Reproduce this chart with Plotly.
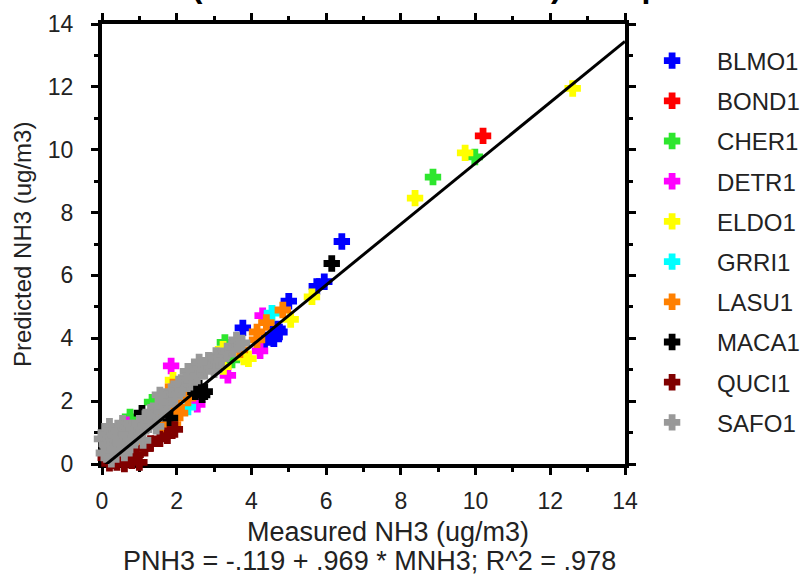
import plotly.graph_objects as go

# Monitoring sites, in legend order, with their marker colours
stations = ["BLMO1", "BOND1", "CHER1", "DETR1", "ELDO1",
            "GRRI1", "LASU1", "MACA1", "QUCI1", "SAFO1"]
colors = ["#0000ff", "#ff0000", "#2ee62e", "#ff00ff", "#ffff00",
          "#00ffff", "#ff8000", "#000000", "#800000", "#999999"]

# Measured (x) and predicted (y) NH3, ug/m3, per site
blmo1_x = [6.42, 5.95, 5.75, 5.00, 4.70, 4.55, 4.75, 4.35, 3.77, 4.60]
blmo1_y = [7.08, 5.80, 5.65, 5.18, 4.30, 4.10, 4.20, 3.87, 4.33, 3.98]

bond1_x = [10.20]
bond1_y = [10.44]

cher1_x = [9.98, 8.86, 3.29, 3.48, 0.75, 1.34]
cher1_y = [9.77, 9.13, 3.87, 3.31, 1.50, 1.97]

detr1_x = [1.85, 3.37, 4.23, 4.30, 2.55, 0.65]
detr1_y = [3.12, 2.82, 3.60, 4.72, 1.90, 1.25]

eldo1_x = [12.60, 9.72, 8.38, 5.62, 5.05, 3.92, 3.24, 3.25, 1.90, 3.80]
eldo1_y = [11.95, 9.90, 8.46, 5.32, 4.60, 3.35, 3.65, 3.10, 2.67, 3.40]

grri1_x = [4.55, 2.30]
grri1_y = [4.80, 1.81]

lasu1_x = [1.00, 1.60, 1.90, 1.63, 2.00, 2.09, 1.90, 2.30, 3.69, 4.15,
           4.15, 4.84, 4.40, 2.25, 2.09]
lasu1_y = [0.45, 1.10, 1.25, 1.62, 1.80, 2.35, 2.45, 2.10, 3.63, 3.95,
           4.20, 4.90, 4.50, 2.55, 1.62]

maca1_x = [6.15, 2.50, 2.68, 2.60, 2.75, 1.07, 1.82]
maca1_y = [6.38, 2.30, 2.20, 2.42, 2.30, 1.62, 1.46]

quci1_x = [0.20, 0.40, 0.60, 0.80, 1.00, 0.90, 0.50, 0.10, -0.10, 1.30,
           1.55, 1.75, 1.15, 0.55, 0.70, 1.95, 0.30]
quci1_y = [0.02, 0.05, 0.00, 0.10, 0.05, 0.30, 0.25, 0.20, 0.30, 0.65,
           0.80, 0.90, 0.50, 1.15, 0.35, 1.10, 0.10]

safo1_x = [-0.15, -0.10, 0.00, 0.05, 0.10, 0.15, 0.25, 0.30, 0.35, 0.45,
           0.50, 0.60, 0.65, 0.75, 0.80, 0.90, 1.00, 1.05, 1.15, 1.25,
           1.30, 1.40, 1.50, 1.60, 1.70, 1.75, 1.85, 1.95, 2.05, 2.15,
           2.25, 2.35, 2.45, 2.55, 2.65, 2.75, 2.85, 2.95, 3.05, 3.20,
           3.35, 3.50, 3.60, 3.75, 0.20, 0.55, 1.10, 1.45, 1.55, 2.30,
           2.60, 3.00]
safo1_y = [0.20, 0.50, 0.80, 0.35, 1.00, 0.60, 0.15, 0.85, 0.45, 1.05,
           0.70, 0.35, 0.95, 0.60, 1.15, 0.85, 1.30, 1.05, 1.45, 1.25,
           1.65, 1.45, 1.85, 1.70, 2.10, 1.90, 2.30, 2.15, 2.55, 2.40,
           2.75, 2.60, 2.95, 2.80, 3.10, 2.95, 3.30, 3.15, 3.45, 3.35,
           3.60, 3.65, 3.95, 3.85, 1.20, 1.30, 0.75, 1.20, 2.20, 2.95,
           3.25, 3.00]

series_x = [blmo1_x, bond1_x, cher1_x, detr1_x, eldo1_x,
            grri1_x, lasu1_x, maca1_x, quci1_x, safo1_x]
series_y = [blmo1_y, bond1_y, cher1_y, detr1_y, eldo1_y,
            grri1_y, lasu1_y, maca1_y, quci1_y, safo1_y]

# Least-squares fit PNH3 = a + b * MNH3
fit_intercept = -0.119
fit_slope = 0.969
fit_r2 = 0.978
axis_max = 14

x_ticks = [0, 2, 4, 6, 8, 10, 12, 14]
y_ticks = [0, 2, 4, 6, 8, 10, 12, 14]

FONT = "Liberation Sans, Arial, sans-serif"

fig = go.Figure()

for name, color, xs, ys in zip(stations, colors, series_x, series_y):
    fig.add_trace(go.Scatter(
        x=xs, y=ys, mode="markers", name=name,
        legendgroup=name,
        marker=dict(symbol="cross", size=12, color=color,
                    line=dict(width=2, color=color)),
        cliponaxis=False,
    ))

fit_x = [0, axis_max]
fit_y = [fit_intercept + fit_slope * v for v in fit_x]
fig.add_trace(go.Scatter(
    x=fit_x, y=fit_y, mode="lines", showlegend=False,
    line=dict(color="black", width=3), hoverinfo="skip",
))

axis_common = dict(
    range=[0, axis_max],
    showgrid=False, zeroline=False,
    showline=True, linecolor="black", linewidth=4,
    mirror="allticks",
    ticks="outside", ticklen=7, tickwidth=3, tickcolor="black",
    minor=dict(dtick=1, ticks="outside", ticklen=4, tickwidth=3,
               tickcolor="black", showgrid=False),
    tickfont=dict(family=FONT, size=23, color="#222222"),
    layer="below traces",
    automargin=False,
)

fig.update_xaxes(tickvals=x_ticks, ticklabelstandoff=6, **axis_common)
fig.update_yaxes(tickvals=y_ticks, ticklabelstandoff=13, **axis_common)

fit_label = (f"PNH3 = {fit_intercept:.3f} + {fit_slope:.3f} * MNH3; "
             f"R^2 = {fit_r2:.3f}").replace("0.", ".")

fig.update_layout(
    width=810, height=576,
    margin=dict(l=102, r=185, t=24, b=112, autoexpand=False),
    paper_bgcolor="white", plot_bgcolor="white",
    font=dict(family=FONT, color="#222222"),
    showlegend=True,
    legend=dict(
        x=1.004, y=0.967, xanchor="left", yanchor="top",
        font=dict(family=FONT, size=24, color="#222222"),
        itemwidth=80, tracegroupgap=6,
        bgcolor="rgba(0,0,0,0)",
    ),
    annotations=[
        dict(text="Measured NH3 (ug/m3)", xref="paper", yref="paper",
             x=0.547, y=-0.1545, xanchor="center", yanchor="middle",
             showarrow=False, font=dict(size=27)),
        dict(text=fit_label,
             xref="paper", yref="paper",
             x=0.512, y=-0.2205, xanchor="center", yanchor="middle",
             showarrow=False, font=dict(size=27)),
        dict(text="Predicted NH3 (ug/m3)", xref="paper", yref="paper",
             x=-0.153, y=0.5, xanchor="center", yanchor="middle",
             textangle=-90, showarrow=False, font=dict(size=24)),
        dict(text="<b>Ammonia (Measured vs Predicted) Comparison</b>",
             xref="paper", yref="paper",
             x=0.564, y=1.041, xanchor="center", yanchor="bottom",
             showarrow=False, font=dict(size=32, color="black")),
    ],
)

fig.write_html("out.html")
